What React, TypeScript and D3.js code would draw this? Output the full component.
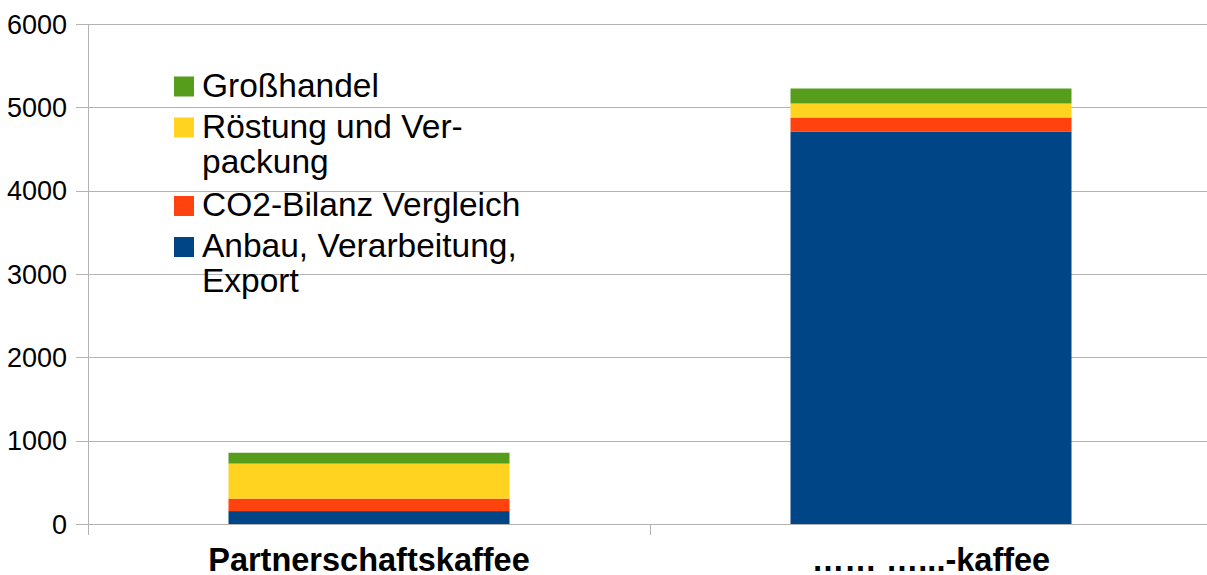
import * as d3 from 'd3';

const categories = ['Partnerschaftskaffee', '…… …...-kaffee'];
const seriesNames = ['Anbau, Verarbeitung, Export', 'CO2-Bilanz Vergleich', 'Röstung und Verpackung', 'Großhandel'];
const anbau = [155, 4710];
const co2 = [150, 168];
const roestung = [420, 168];
const grosshandel = [130, 180];
const yTicks = [0, 1000, 2000, 3000, 4000, 5000, 6000];

const colors = ['#004586', '#ff420e', '#ffd320', '#579d1c'];

// legend lines, top to bottom (wrapped like the original)
const legendItems = [
    {series: 3, lines: ['Großhandel']},
    {series: 2, lines: ['Röstung und Ver-', 'packung']},
    {series: 1, lines: ['CO2-Bilanz Vergleich']},
    {series: 0, lines: ['Anbau, Verarbeitung,', 'Export']},
];
const legendBaselines = [96.5, 137.5, 216, 257];

export default function App() {
    const width = 1207;
    const height = 575;
    const margins = {top: 24, left: 88, bottom: 51};
    const plotRight = 1212;
    const y0 = height - margins.bottom;

    const xScale = d3.scaleBand<string>().domain(categories).range([margins.left, plotRight]).paddingInner(0).paddingOuter(0);
    const yScale = d3.scaleLinear().domain([0, 6000]).range([y0, margins.top]);

    const rows = categories.map((c, i) => ({
        cat: c,
        s0: anbau[i],
        s1: co2[i],
        s2: roestung[i],
        s3: grosshandel[i],
    }));
    const stack = d3.stack<any>().keys(['s0', 's1', 's2', 's3']);
    const layers = stack(rows);

    const bw = xScale.bandwidth();
    const barW = bw * 0.5;
    const font = '"Liberation Sans", Arial, sans-serif';

    return (
        <svg width={width} height={height} style={{position: 'absolute', left: 0, top: 0, background: '#fff'}} fontFamily={font}>
            {yTicks.map((t) => (
                <g key={t}>
                    <line x1={76} x2={plotRight} y1={Math.round(yScale(t)) + 0.5} y2={Math.round(yScale(t)) + 0.5} stroke="#b3b3b3" strokeWidth={1} />
                    <text x={67} y={yScale(t) + 9.5} textAnchor="end" fontSize={27} fill="#000">
                        {t}
                    </text>
                </g>
            ))}
            <line x1={margins.left + 0.5} x2={margins.left + 0.5} y1={margins.top} y2={y0 + 11} stroke="#b3b3b3" />
            {[0, 1, 2].map((i) => {
                const x = Math.round(margins.left + i * bw) + 0.5;
                return <line key={i} x1={x} x2={x} y1={y0} y2={y0 + 11} stroke="#b3b3b3" />;
            })}
            {layers.map((layer, si) => (
                <g key={si} fill={colors[si]}>
                    {layer.map((d, i) => (
                        <rect
                            key={i}
                            x={(xScale(categories[i]) as number) + (bw - barW) / 2}
                            width={barW}
                            y={yScale(d[1])}
                            height={yScale(d[0]) - yScale(d[1])}
                        />
                    ))}
                </g>
            ))}
            {categories.map((c) => (
                <text key={c} x={(xScale(c) as number) + bw / 2} y={571} textAnchor="middle" fontSize={32.5} fontWeight="bold" fill="#000">
                    {c}
                </text>
            ))}
            {legendItems.map((item, k) => (
                <g key={item.series}>
                    <rect x={174} y={legendBaselines[k] - 20} width={20} height={20} fill={colors[item.series]} />
                    {item.lines.map((ln: string, j: number) => (
                        <text key={j} x={202} y={legendBaselines[k] + j * 35} fontSize={33.5} fill="#000">
                            {ln}
                        </text>
                    ))}
                </g>
            ))}
        </svg>
    );
}
